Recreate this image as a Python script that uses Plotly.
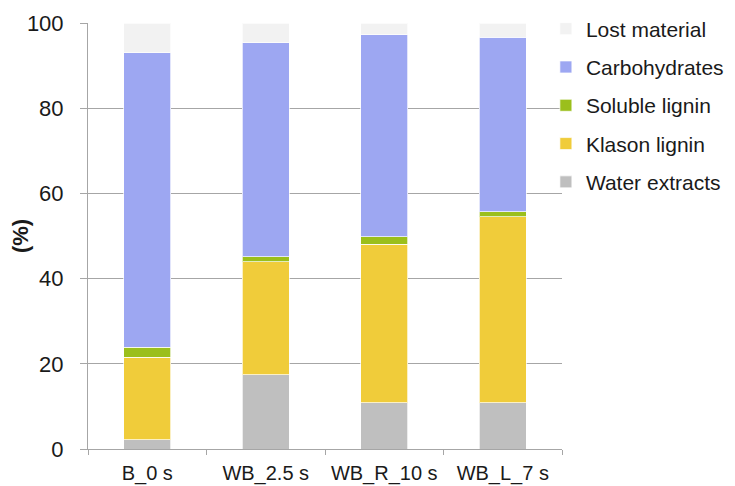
import plotly.graph_objects as go

categories = ["B_0 s", "WB_2.5 s", "WB_R_10 s", "WB_L_7 s"]
water_extracts = [2.2, 17.4, 10.8, 10.8]
klason_lignin = [19.3, 26.6, 37.3, 43.7]
soluble_lignin = [2.4, 1.1, 1.7, 1.2]
carbohydrates = [69.1, 50.3, 47.5, 41.0]
lost_material = [7.0, 4.6, 2.7, 3.3]

series = [
    ("Water extracts", water_extracts, "#BFBFBF"),
    ("Klason lignin", klason_lignin, "#F0CC3A"),
    ("Soluble lignin", soluble_lignin, "#9BBF1C"),
    ("Carbohydrates", carbohydrates, "#9DA7F2"),
    ("Lost material", lost_material, "#F2F2F2"),
]

fig = go.Figure()
for i, (name, vals, color) in enumerate(series):
    fig.add_trace(go.Bar(
        x=categories, y=vals, name=name, legendgroup=str(i), legendrank=10 - i,
        marker=dict(color=color, line=dict(color="rgba(255,255,255,0.7)", width=1)),
    ))

# page has an 8px body margin, so the figure is sized to fit inside 735x486
fig.update_layout(
    width=727, height=478,
    barmode="stack", bargap=0.6,
    plot_bgcolor="white", paper_bgcolor="white",
    margin=dict(l=80, r=173, t=15, b=37, autoexpand=False),
    font=dict(family="Liberation Sans, Arial, sans-serif", size=22, color="#1a1a1a"),
    legend=dict(traceorder="grouped", x=0.966, xanchor="left", y=1.034, yanchor="top",
                tracegroupgap=8, font=dict(size=21), itemwidth=30,
                bgcolor="rgba(0,0,0,0)"),
    showlegend=True,
)
fig.update_yaxes(range=[0, 100], dtick=20, showgrid=True, gridcolor="#A6A6A6", gridwidth=1,
                 showline=True, linecolor="#A6A6A6", linewidth=1, ticks="outside",
                 ticklen=7, tickcolor="#A6A6A6", zeroline=False, ticklabelstandoff=12,
                 title=dict(text="<b>(%)</b>", standoff=1, font=dict(size=22)))
fig.update_xaxes(showline=True, linecolor="#A6A6A6", linewidth=1, ticks="outside",
                 tickson="boundaries", ticklen=5, tickcolor="#A6A6A6", showgrid=False,
                 tickangle=0, tickfont=dict(size=20), ticklabelstandoff=6)

fig.write_html("out.html")
